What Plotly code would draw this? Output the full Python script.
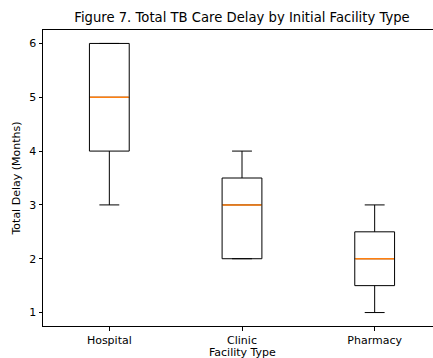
import plotly.graph_objects as go

# Summary statistics of total delay (months) per initial facility type
facilities = ["Hospital", "Clinic", "Pharmacy"]
positions = [1, 2, 3]
lower_whisker = [3, 2, 1]
q1 = [4, 2, 1.5]
median = [5, 3, 2]
q3 = [6, 3.5, 2.5]
upper_whisker = [6, 4, 3]

box_width = 0.3
font_family = "DejaVu Sans"

fig = go.Figure()

fig.add_trace(go.Box(
    x=positions,
    q1=q1,
    median=median,
    q3=q3,
    lowerfence=lower_whisker,
    upperfence=upper_whisker,
    width=box_width,
    whiskerwidth=0.5,
    fillcolor="rgba(0,0,0,0)",
    line=dict(color="black", width=1),
    boxpoints=False,
    showlegend=False,
    hoverinfo="skip",
))

# Orange median lines drawn over each box
for xp, m in zip(positions, median):
    fig.add_trace(go.Scatter(
        x=[xp - box_width / 2 + 0.004, xp + box_width / 2 - 0.004],
        y=[m, m],
        mode="lines",
        line=dict(color="#ff7f0e", width=1.5),
        showlegend=False,
        hoverinfo="skip",
    ))

fig.update_layout(
    width=433,
    height=358,
    margin=dict(l=43, r=0, t=29.5, b=31.5),
    paper_bgcolor="white",
    plot_bgcolor="white",
    font=dict(family=font_family, size=11, color="black"),
    title=dict(
        text="Figure 7. Total TB Care Delay by Initial Facility Type",
        font=dict(size=13.2, color="black", family=font_family),
        xref="container", x=242 / 433, xanchor="center",
        yref="container", y=1 - 17 / 358, yanchor="middle",
    ),
    annotations=[dict(
        text="Facility Type",
        xref="x", x=2, yref="paper", y=-26.5 / 297,
        xanchor="center", yanchor="middle",
        showarrow=False, font=dict(size=11, color="black"),
    )],
)

fig.update_xaxes(
    range=[0.5, 0.5 + 3.0 * 390 / 398],
    tickmode="array",
    tickvals=positions,
    ticktext=facilities,
    ticks="outside",
    ticklen=3.5,
    tickcolor="black",
    tickfont=dict(size=11),
    showgrid=False,
    zeroline=False,
    showline=True,
    linecolor="black",
    linewidth=1,
    mirror=True,
)

fig.update_yaxes(
    range=[0.75, 6.25],
    tickmode="array",
    tickvals=[1, 2, 3, 4, 5, 6],
    ticks="outside",
    ticklen=3.5,
    tickcolor="black",
    tickfont=dict(size=11),
    showgrid=False,
    zeroline=False,
    showline=True,
    linecolor="black",
    linewidth=1,
    title=dict(text="Total Delay (Months)", standoff=6, font=dict(size=11)),
)

fig.write_html("out.html")
